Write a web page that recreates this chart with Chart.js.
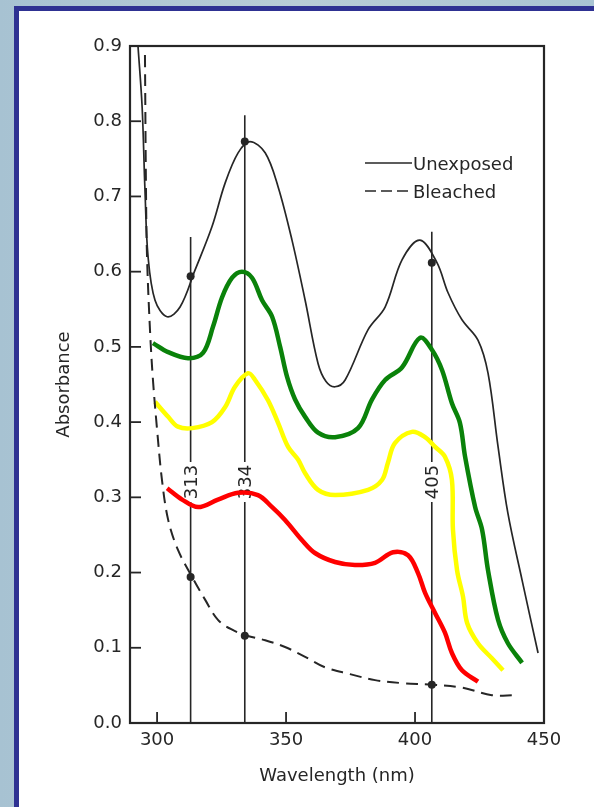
<!DOCTYPE html>
<html>
<head>
<meta charset="utf-8">
<script src="https://cdn.jsdelivr.net/npm/chart.js@4"></script>
<style>
  html, body { margin: 0; padding: 0; width: 594px; height: 807px; overflow: hidden; }
  body { background: linear-gradient(90deg, #a7c2d2 0%, #b9cdd6 50%, #a9c4d3 100%); position: relative; }
  #panel { position: absolute; left: 14px; top: 6px; width: 600px; height: 820px;
           background: #fff; border-left: 5px solid #2e3192; border-top: 5px solid #2e3192; }
  #chart { position: absolute; left: 0; top: 0; }
</style>
</head>
<body>
<div id="panel"></div>
<canvas id="chart" width="594" height="807"></canvas>
<script>
// tick labels
const xTicks = [300, 350, 400, 450];
const yTicks = [0, 0.1, 0.2, 0.3, 0.4, 0.5, 0.6, 0.7, 0.8, 0.9];

// Unexposed (solid black)
const unexposedNm  = [292.6, 294.2, 295.3, 296.5, 299.2, 303.9, 308.9, 314.7, 321.3, 326.4, 331.4, 336.0, 341.9, 346.9, 352.3, 357.4, 362.4, 365.5, 369.0, 372.9, 381.8, 388.4, 395.0, 401.9, 408.5, 412.8, 418.2, 424.4, 428.3, 432.2, 436.0, 441.5, 447.7];
const unexposedAbs = [0.900, 0.819, 0.709, 0.620, 0.562, 0.540, 0.553, 0.602, 0.660, 0.718, 0.758, 0.773, 0.758, 0.713, 0.642, 0.562, 0.478, 0.454, 0.447, 0.456, 0.523, 0.553, 0.616, 0.642, 0.612, 0.572, 0.536, 0.509, 0.465, 0.367, 0.279, 0.190, 0.093];

// Bleached (dashed black)
const bleachedNm  = [295.3, 295.7, 296.1, 297.3, 298.4, 300.0, 301.9, 304.3, 308.1, 313.6, 318.6, 323.6, 329.1, 334.9, 341.9, 349.6, 357.4, 365.1, 374.8, 384.5, 395.0, 406.6, 418.2, 429.8, 438.8];
const bleachedAbs = [0.888, 0.709, 0.620, 0.519, 0.456, 0.390, 0.323, 0.270, 0.230, 0.194, 0.164, 0.137, 0.124, 0.116, 0.110, 0.101, 0.088, 0.074, 0.065, 0.057, 0.053, 0.051, 0.047, 0.037, 0.037];

// hand-drawn coloured curves
const greenNm  = [298.4, 304.3, 312.0, 317.8, 321.7, 325.2, 329.1, 332.9, 336.8, 340.7, 344.6, 347.7, 350.4, 353.5, 357.4, 362.4, 369.0, 377.9, 383.3, 388.4, 395.0, 401.9, 406.6, 410.5, 414.3, 417.4, 419.4, 423.3, 426.0, 428.3, 432.2, 436.0, 441.5];
const greenAbs = [0.505, 0.493, 0.485, 0.492, 0.527, 0.566, 0.592, 0.600, 0.592, 0.562, 0.540, 0.500, 0.460, 0.430, 0.407, 0.386, 0.380, 0.392, 0.430, 0.456, 0.473, 0.512, 0.496, 0.469, 0.425, 0.399, 0.354, 0.287, 0.257, 0.203, 0.137, 0.106, 0.080];

const yellowNm  = [299.2, 304.3, 308.1, 313.6, 321.3, 326.4, 330.2, 335.3, 338.0, 343.0, 346.9, 350.8, 354.7, 357.4, 362.4, 369.0, 381.8, 387.2, 389.5, 392.2, 398.8, 403.9, 407.8, 411.6, 414.3, 414.7, 416.3, 418.6, 420.2, 424.4, 429.8, 434.1];
const yellowAbs = [0.427, 0.407, 0.394, 0.392, 0.400, 0.420, 0.447, 0.465, 0.456, 0.429, 0.399, 0.367, 0.350, 0.332, 0.310, 0.303, 0.310, 0.323, 0.346, 0.372, 0.387, 0.380, 0.367, 0.354, 0.323, 0.257, 0.203, 0.168, 0.133, 0.106, 0.086, 0.070];

const redNm  = [303.9, 309.7, 315.9, 323.6, 331.4, 339.1, 344.6, 349.6, 356.2, 361.2, 369.0, 376.7, 384.5, 391.5, 397.3, 401.2, 403.9, 407.8, 411.6, 414.3, 418.2, 424.4];
const redAbs = [0.312, 0.297, 0.287, 0.297, 0.306, 0.303, 0.287, 0.270, 0.243, 0.226, 0.214, 0.210, 0.213, 0.227, 0.223, 0.199, 0.173, 0.146, 0.120, 0.093, 0.070, 0.055];

// marker lines (position as drawn on the scan), their labels and tops, and dots
const markerNm    = [313, 334, 406.5];
const markerLabel = ['313', '334', '405'];
const markerTop   = [0.646, 0.808, 0.653];
const dotNm  = [313, 334, 406.5, 313, 334, 406.5];
const dotAbs = [0.594, 0.773, 0.612, 0.194, 0.116, 0.051];

const ink = '#262626';
const font = '"DejaVu Sans", sans-serif';

function pts(xs, ys) { return xs.map((x, i) => ({ x: x, y: ys[i] })); }

const decor = {
    id: 'decor',
    beforeDatasetsDraw(chart) {
        const ctx = chart.ctx, xs = chart.scales.x, ys = chart.scales.y;
        ctx.save();
        // vertical marker lines with labels
        ctx.strokeStyle = ink;
        ctx.lineWidth = 1.6;
        markerNm.forEach((nm, i) => {
            const px = xs.getPixelForValue(nm);
            ctx.beginPath();
            ctx.moveTo(px, ys.getPixelForValue(0));
            ctx.lineTo(px, ys.getPixelForValue(markerTop[i]));
            ctx.stroke();
        });
        ctx.font = '18px ' + font;
        ctx.textAlign = 'center';
        ctx.textBaseline = 'middle';
        markerNm.forEach((nm, i) => {
            const px = xs.getPixelForValue(nm);
            ctx.save();
            ctx.translate(px + 1, 482);
            ctx.rotate(-Math.PI / 2);
            ctx.fillStyle = '#fff';
            ctx.fillRect(-20, -8, 40, 16);
            ctx.fillStyle = ink;
            ctx.fillText(markerLabel[i], 0, 1);
            ctx.restore();
        });
        ctx.restore();
    },
    afterDraw(chart) {
        const ctx = chart.ctx, a = chart.chartArea, xs = chart.scales.x, ys = chart.scales.y;
        ctx.save();
        // frame
        ctx.strokeStyle = ink;
        ctx.lineWidth = 2.2;
        ctx.strokeRect(a.left, a.top, a.right - a.left, a.bottom - a.top);
        // inward ticks
        ctx.lineWidth = 1.8;
        yTicks.slice(1, -1).forEach(v => {
            const py = ys.getPixelForValue(v);
            ctx.beginPath(); ctx.moveTo(a.left, py); ctx.lineTo(a.left + 11, py); ctx.stroke();
        });
        xTicks.slice(0, -1).forEach(v => {
            const px = xs.getPixelForValue(v);
            ctx.beginPath(); ctx.moveTo(px, a.bottom); ctx.lineTo(px, a.bottom - 11); ctx.stroke();
        });
        // legend
        ctx.lineWidth = 1.6;
        ctx.beginPath(); ctx.moveTo(365, 163); ctx.lineTo(412, 163); ctx.stroke();
        ctx.setLineDash([11, 5]);
        ctx.beginPath(); ctx.moveTo(365, 191); ctx.lineTo(412, 191); ctx.stroke();
        ctx.setLineDash([]);
        ctx.fillStyle = ink;
        ctx.font = '18px ' + font;
        ctx.textAlign = 'left';
        ctx.textBaseline = 'alphabetic';
        ctx.fillText('Unexposed', 413, 170);
        ctx.fillText('Bleached', 413, 198);
        ctx.restore();
    }
};

new Chart(document.getElementById('chart').getContext('2d'), {
    type: 'line',
    data: {
        datasets: [
            { data: pts(unexposedNm, unexposedAbs), borderColor: ink, borderWidth: 1.7 },
            { data: pts(bleachedNm, bleachedAbs), borderColor: ink, borderWidth: 2, borderDash: [12, 7] },
            { data: pts(greenNm, greenAbs), borderColor: '#0a820a', borderWidth: 4.5 },
            { data: pts(yellowNm, yellowAbs), borderColor: '#ffff00', borderWidth: 4.5 },
            { data: pts(redNm, redAbs), borderColor: '#ff0000', borderWidth: 4.5 },
            { data: pts(dotNm, dotAbs), showLine: false, pointRadius: 4, pointBackgroundColor: ink, pointBorderWidth: 0 }
        ]
    },
    options: {
        responsive: false,
        animation: false,
        tension: 0.35,
        elements: { point: { radius: 0 } },
        layout: { padding: { left: 0, right: 50, top: 46, bottom: 0 } },
        plugins: { legend: { display: false }, tooltip: { enabled: false } },
        scales: {
            x: {
                type: 'linear', min: 289.5, max: 450,
                afterFit: s => { s.height = 84; },
                afterBuildTicks: s => { s.ticks = xTicks.map(v => ({ value: v })); },
                grid: { display: false, drawTicks: false },
                border: { display: false },
                ticks: { color: ink, padding: 7, font: { family: font, size: 18 }, maxRotation: 0 },
                title: { display: true, text: 'Wavelength (nm)', color: ink,
                         font: { family: font, size: 18 }, padding: { top: 0, bottom: 20 } }
            },
            y: {
                min: 0, max: 0.9,
                afterFit: s => { s.width = 130; },
                afterBuildTicks: s => { s.ticks = yTicks.map(v => ({ value: v })); },
                grid: { display: false, drawTicks: false },
                border: { display: false },
                ticks: { color: ink, padding: 8, font: { family: font, size: 18 },
                         callback: v => v.toFixed(1) },
                title: { display: true, text: 'Absorbance', color: ink,
                         font: { family: font, size: 18 }, padding: { top: 54, bottom: 0 } }
            }
        }
    },
    plugins: [decor]
});
</script>
</body>
</html>
